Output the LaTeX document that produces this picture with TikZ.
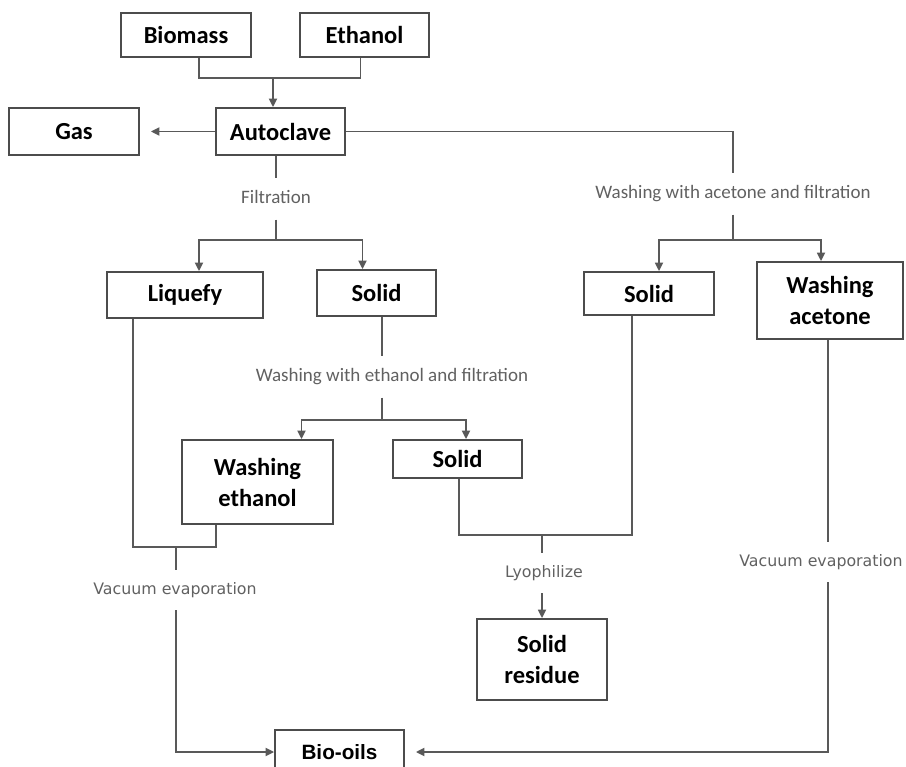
\documentclass[tikz,border=0pt]{standalone}
\usepackage{fontspec}
\setmainfont{Carlito}
\newfontfamily\vapfont{DejaVu Sans}
\newfontfamily\oilfont{Liberation Sans}
\usetikzlibrary{arrows.meta}

\tikzset{
  box/.style={draw=black!70, line width=1.8pt, align=center, inner sep=0pt,
    font=\bfseries\fontsize{24.5}{31}\selectfont},
  proc/.style={text=black!62, inner xsep=2pt, inner ysep=12pt,
    text height=13pt, text depth=4pt, font=\fontsize{19}{23}\selectfont},
  vap/.style={proc, inner ysep=13pt, text height=11pt, text depth=3pt,
    font=\vapfont\fontsize{15.8}{19}\selectfont},
  flow/.style={draw=black!65, line width=1.7pt},
}

\begin{document}
\begin{tikzpicture}[x=1pt,y=-1pt,>={Triangle[length=8.5pt,width=8pt]}]
  \useasboundingbox (0,0) rectangle (906,767);

  % boxes
  \node[box, minimum width=130pt, minimum height=44pt] (biomass) at (186,35) {Biomass};
  \node[box, minimum width=129pt, minimum height=44pt] (ethanol) at (364.5,35) {Ethanol};
  \node[box, minimum width=129pt, minimum height=47pt] (autoclave) at (280.5,131.5) {Autoclave};
  \node[box, minimum width=130pt, minimum height=47pt] (gas) at (74,131.5) {Gas};
  \node[box, minimum width=156pt, minimum height=46pt] (liquefy) at (185,295) {Liquefy};
  \node[box, minimum width=119pt, minimum height=46pt] (solidA) at (376.5,293) {Solid};
  \node[box, minimum width=130pt, minimum height=43pt] (solidB) at (649,293.5) {Solid};
  \node[box, minimum width=146pt, minimum height=77pt] (washace) at (830,300.5) {Washing\\acetone};
  \node[box, minimum width=151pt, minimum height=84pt] (washeth) at (257.5,482) {Washing\\ethanol};
  \node[box, minimum width=129pt, minimum height=38pt] (solidC) at (457.5,459) {Solid};
  \node[box, minimum width=130pt, minimum height=81pt] (residue) at (542,659.5) {Solid\\residue};
  \node[box, minimum width=129pt, minimum height=44pt,
    font=\oilfont\bfseries\fontsize{20.7}{25}\selectfont] (biooils) at (339.5,752) {Bio-oils};

  % process steps
  \node[proc] (filt) at (276,199) {Filtration};
  \node[proc] (acef) at (733,194) {Washing with acetone and filtration};
  \node[proc] (ethf) at (392,377) {Washing with ethanol and filtration};
  \node[vap] (vapL) at (175,590) {Vacuum evaporation};
  \node[vap] (lyo) at (544,573) {Lyophilize};
  \node[vap] (vapR) at (821,562) {Vacuum evaporation};

  % feed
  \coordinate (feed) at (273,78);
  \draw[flow] ([xshift=13pt]biomass.south) |- (feed) -| ([xshift=-4pt]ethanol.south);
  \draw[flow,->] (feed) -- (feed |- autoclave.north);
  \draw[flow,->,shorten >=11pt] (autoclave) -- (gas);

  % filtration
  \coordinate (fsplit) at (276,240);
  \draw[flow] (filt |- autoclave.south) -- (filt);
  \draw[flow] (filt) -- (fsplit);
  \draw[flow,->] (fsplit) -| ([xshift=14pt]liquefy.north);
  \draw[flow,->] (fsplit) -| ([xshift=-14pt]solidA.north);

  % acetone washing
  \coordinate (asplit) at (733,240);
  \draw[flow] (autoclave) -| (acef);
  \draw[flow] (acef) -- (asplit);
  \draw[flow,->] (asplit) -| ([xshift=10pt]solidB.north);
  \draw[flow,->] (asplit) -| ([xshift=-9pt]washace.north);

  % ethanol washing
  \coordinate (esplit) at (382,420);
  \draw[flow] (esplit |- solidA.south) -- (esplit |- ethf.north);
  \draw[flow] (esplit |- ethf.south) -- (esplit);
  \draw[flow,->] (esplit) -| ([xshift=44pt]washeth.north);
  \draw[flow,->] (esplit) -| ([xshift=8.5pt]solidC.north);

  % evaporation, left
  \coordinate (vjoin) at (176,547);
  \draw[flow] ([xshift=-52pt]liquefy.south) |- (vjoin) -| ([xshift=-41.5pt]washeth.south);
  \draw[flow] (vjoin) -- (vjoin |- vapL.north);
  \draw[flow,->] (vjoin |- vapL.south) |- (biooils);

  % lyophilize
  \coordinate (ljoin) at (542,535);
  \draw[flow] ([xshift=1.5pt]solidC.south) |- (ljoin) -| ([xshift=-17pt]solidB.south);
  \draw[flow] (ljoin) -- (ljoin |- lyo.north);
  \draw[flow,->] (ljoin |- lyo.south) -- (residue);

  % evaporation, right
  \coordinate (rline) at (828,0);
  \draw[flow] (washace.south -| rline) -- (rline |- vapR.north);
  \draw[flow,->,shorten >=11pt] (rline |- vapR.south) |- (biooils);
\end{tikzpicture}
\end{document}
